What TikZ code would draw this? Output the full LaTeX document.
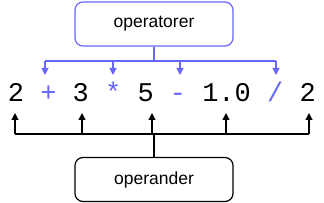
\documentclass[tikz,border=0pt]{standalone}
\usepackage{fontspec}
\setmainfont{Liberation Sans}
\newfontfamily\codefont{Liberation Mono}
\usetikzlibrary{arrows.meta}
\definecolor{opblue}{HTML}{6666FF}
\begin{document}
\begin{tikzpicture}[x=1pt,y=-1pt,
  labelbox/.style={draw,rounded corners=8pt,line width=1.2pt,minimum width=158pt,minimum height=44pt,inner sep=0pt,font=\fontsize{17.5}{20}\selectfont},
  tok/.style={anchor=base,inner sep=0pt,font=\codefont\fontsize{27}{30}\selectfont},
  optok/.style={tok,text=opblue},
  conn/.style={line width=1.2pt},
  arr/.style={conn,-{Stealth[length=7pt,width=7pt,inset=0pt]}}]
\useasboundingbox (0,0) rectangle (324,203);
\node[labelbox,draw=opblue] (ops) at (154,24) {operatorer};
\node[labelbox,draw=black] (opd) at (154,179.5) {operander};
% tokens
\node[tok] (t1) at (16,102) {2};
\node[optok] (o1) at (48.4,102) {+};
\node[tok] (t2) at (80.8,102) {3};
\node[optok] (o2) at (113.2,102) {*};
\node[tok] (t3) at (145.6,102) {5};
\node[optok] (o3) at (178,102) {-};
\node[tok] (t4) at (226.6,102) {1.0};
\node[optok] (o4) at (275.2,102) {/};
\node[tok] (t5) at (307.6,102) {2};
% operator connectors
\coordinate (tj) at (154,61);
\coordinate (a1) at (45,75);
\coordinate (a2) at (113,75);
\coordinate (a3) at (180,75);
\coordinate (a4) at (276,75);
\draw[conn,opblue] (ops.south) -- (tj);
\draw[conn,opblue] (a1 |- tj) -- (a4 |- tj);
\foreach \a in {a1,a2,a3,a4} \draw[arr,opblue] (\a |- tj) -- (\a);
% operand connectors
\coordinate (bj) at (154,134);
\coordinate (b1) at (15,113);
\coordinate (b2) at (82,113);
\coordinate (b3) at (152,113);
\coordinate (b4) at (226,113);
\coordinate (b5) at (309,113);
\draw[conn] (opd.north) -- (bj);
\draw[conn] (b1 |- bj) -- (b5 |- bj);
\foreach \b in {b1,b2,b3,b4,b5} \draw[arr] (\b |- bj) -- (\b);
\end{tikzpicture}
\end{document}
